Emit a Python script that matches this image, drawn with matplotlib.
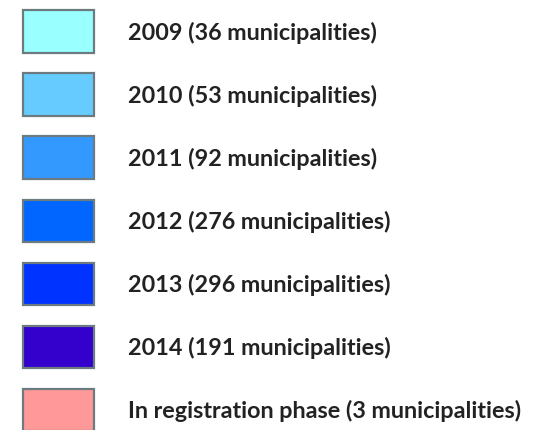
import matplotlib
matplotlib.use("Agg")
from matplotlib import pyplot as plt

years = ["2009", "2010", "2011", "2012", "2013", "2014", "In registration phase"]
counts = [36, 53, 92, 276, 296, 191, 3]
colors = ["#99FFFF", "#66CCFF", "#3399FF", "#0066FF", "#0033FF", "#3300CC", "#FF9999"]

labels = ["%s (%d municipalities)" % (y, c) for y, c in zip(years, counts)]

fig = plt.figure(figsize=(5.43, 4.30), dpi=100)
ax = fig.add_axes([0, 0, 1, 1])
ax.set_xlim(0, 543)
ax.set_ylim(6.325, -0.5)
ax.axis("off")

rows = list(range(len(labels)))
ax.barh(rows, [71] * len(rows), left=23, height=0.667,
        color=colors, edgecolor="#6b7b80", linewidth=1.6)

for i, lab in enumerate(labels):
    ax.text(128, i + 0.03, lab, fontsize=16.8, fontweight="bold",
            family="Lato", color="#222222", va="center", ha="left")

plt.savefig("out.png", dpi=100)
